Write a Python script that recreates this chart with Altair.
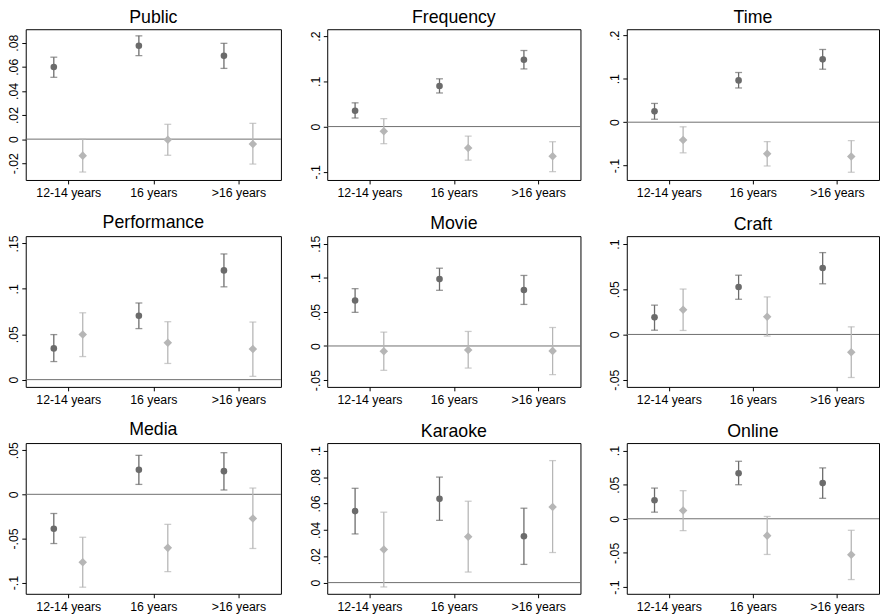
import altair as alt
import pandas as pd

panels = ["Public", "Frequency", "Time", "Performance", "Movie", "Craft", "Media", "Karaoke", "Online"]
groups = ["12-14 years", "16 years", ">16 years"]

# dark series (circles): estimate, lower, upper
dark_mid = [[0.0598, 0.0775, 0.0691], [0.0349, 0.0895, 0.1476], [0.025, 0.0962, 0.1447],
            [0.0344, 0.0703, 0.1203], [0.0667, 0.098, 0.0821], [0.0189, 0.0524, 0.0735],
            [-0.0389, 0.0277, 0.0262], [0.0542, 0.0635, 0.0351], [0.0271, 0.0668, 0.0523]]
dark_lo = [[0.0513, 0.0693, 0.0587], [0.0189, 0.0742, 0.1273], [0.0068, 0.0788, 0.122],
           [0.0199, 0.0562, 0.1022], [0.0493, 0.0816, 0.0609], [0.0047, 0.0389, 0.056],
           [-0.0557, 0.0112, 0.0049], [0.0369, 0.0472, 0.0138], [0.0097, 0.0499, 0.03]]
dark_hi = [[0.068, 0.0857, 0.0795], [0.0524, 0.1055, 0.168], [0.0432, 0.1144, 0.1674],
           [0.0496, 0.0844, 0.1384], [0.084, 0.114, 0.1034], [0.0324, 0.0655, 0.0905],
           [-0.0217, 0.0441, 0.0471], [0.0715, 0.08, 0.0564], [0.045, 0.0843, 0.0746]]

# light series (diamonds): estimate, lower, upper
light_mid = [[-0.0137, -0.0005, -0.0041], [-0.0102, -0.0473, -0.0655], [-0.041, -0.0727, -0.0788],
             [0.0496, 0.0406, 0.0337], [-0.0077, -0.0058, -0.0072], [0.0273, 0.0196, -0.0196],
             [-0.077, -0.0606, -0.0273], [0.0251, 0.0348, 0.0574], [0.0121, -0.0247, -0.0528]]
light_lo = [[-0.0273, -0.0134, -0.0207], [-0.0378, -0.0742, -0.0996], [-0.0705, -0.1008, -0.1152],
            [0.0254, 0.0178, 0.0036], [-0.0357, -0.0324, -0.042], [0.0044, -0.0018, -0.0476],
            [-0.1051, -0.0875, -0.0613], [-0.0033, 0.008, 0.0228], [-0.0174, -0.0523, -0.0891]]
light_hi = [[0.0, 0.0123, 0.0131], [0.0175, -0.0211, -0.0335], [-0.0106, -0.0447, -0.0424],
            [0.0736, 0.0638, 0.0634], [0.0203, 0.0213, 0.0271], [0.0502, 0.0415, 0.0084],
            [-0.0486, -0.034, 0.0071], [0.0534, 0.0617, 0.0925], [0.0412, 0.0034, -0.0169]]

# y-axis ranges and tick values per panel
y_domains = [[-0.0339, 0.0912], [-0.118, 0.215], [-0.133, 0.214],
             [-0.008, 0.158], [-0.060, 0.161], [-0.058, 0.1087],
             [-0.1126, 0.058], [-0.0085, 0.1058], [-0.110, 0.111]]
y_ticks = [[-0.02, 0, 0.02, 0.04, 0.06, 0.08], [-0.1, 0, 0.1, 0.2], [-0.1, 0, 0.1, 0.2],
           [0, 0.05, 0.1, 0.15], [-0.05, 0, 0.05, 0.1, 0.15], [-0.05, 0, 0.05, 0.1],
           [-0.1, -0.05, 0, 0.05], [0, 0.02, 0.04, 0.06, 0.08, 0.1], [-0.1, -0.05, 0, 0.05, 0.1]]

OFFSET = 0.17
DARK = "#6b6b6b"
LIGHT = "#b6b6b6"
FONT = "Liberation Sans"
COL_W = [259, 257, 256]
H = 153

x_label_expr = "[" + ",".join("'" + g + "'" for g in groups) + "][datum.value - 1]"
y_label_expr = ("datum.value == 0 ? '0' : (datum.value < 0 ? '-' : '') + "
                "substring(format(abs(datum.value), '.2~f'), 1)")


def panel(k):
    W = COL_W[k % 3]
    rows = []
    for i in range(3):
        rows.append({"series": "dark", "x": i + 1 - OFFSET, "mid": dark_mid[k][i],
                     "lo": dark_lo[k][i], "hi": dark_hi[k][i]})
        rows.append({"series": "light", "x": i + 1 + OFFSET, "mid": light_mid[k][i],
                     "lo": light_lo[k][i], "hi": light_hi[k][i]})
    df = pd.DataFrame(rows)
    xs = alt.Scale(domain=[0.5, 3.5], nice=False, zero=False)
    ys = alt.Scale(domain=y_domains[k], nice=False, zero=False)
    xa = alt.Axis(values=[1, 2, 3], labelExpr=x_label_expr, title=None, grid=False,
                  labelAngle=0, labelPadding=3)
    ya = alt.Axis(values=y_ticks[k], labelExpr=y_label_expr, title=None, grid=False,
                  labelAngle=270, labelAlign="center", labelBaseline="bottom", labelPadding=1)
    X = alt.X("x:Q", scale=xs, axis=xa)
    col = alt.Color("series:N", scale=alt.Scale(domain=["dark", "light"], range=[DARK, LIGHT]),
                    legend=None)
    base = alt.Chart(df)
    zero = alt.Chart(pd.DataFrame({"z": [0.0]})).mark_rule(color="#6e6e6e", strokeWidth=1).encode(
        y=alt.Y("z:Q", scale=ys, axis=ya), x=alt.value(0), x2=alt.value(W))
    bars = base.mark_rule(strokeWidth=1.3).encode(
        x=X, y=alt.Y("lo:Q", scale=ys, axis=ya), y2="hi:Q", color=col)
    cap_lo = base.mark_tick(orient="horizontal", size=7, thickness=1.3).encode(
        x=X, y=alt.Y("lo:Q", scale=ys, axis=ya), color=col)
    cap_hi = base.mark_tick(orient="horizontal", size=7, thickness=1.3).encode(
        x=X, y=alt.Y("hi:Q", scale=ys, axis=ya), color=col)
    pts_d = base.transform_filter("datum.series == 'dark'").mark_point(
        shape="circle", filled=True, opacity=1, size=45, color=DARK).encode(
        x=X, y=alt.Y("mid:Q", scale=ys, axis=ya))
    pts_l = base.transform_filter("datum.series == 'light'").mark_point(
        shape="diamond", filled=True, opacity=1, size=75, color=LIGHT).encode(
        x=X, y=alt.Y("mid:Q", scale=ys, axis=ya))
    return alt.layer(zero, bars, cap_lo, cap_hi, pts_d, pts_l).properties(
        width=W, height=H,
        title=alt.TitleParams(panels[k], fontSize=18, font=FONT, fontWeight="normal",
                              color="black", offset=2.5, anchor="middle"))


rows = [alt.hconcat(*[panel(r * 3 + c) for c in range(3)], spacing=27) for r in range(3)]
chart = alt.vconcat(*rows, spacing=14).properties(
    padding={"left": -1, "top": -4, "right": 0, "bottom": 0}, background="white"
).configure_view(
    stroke="black", strokeWidth=1
).configure_axis(
    domain=False, tickColor="black", tickSize=4, labelFont=FONT, labelFontSize=12.5,
    labelColor="black"
)

chart.save("out.html", embed_options={"renderer": "svg", "actions": False})
